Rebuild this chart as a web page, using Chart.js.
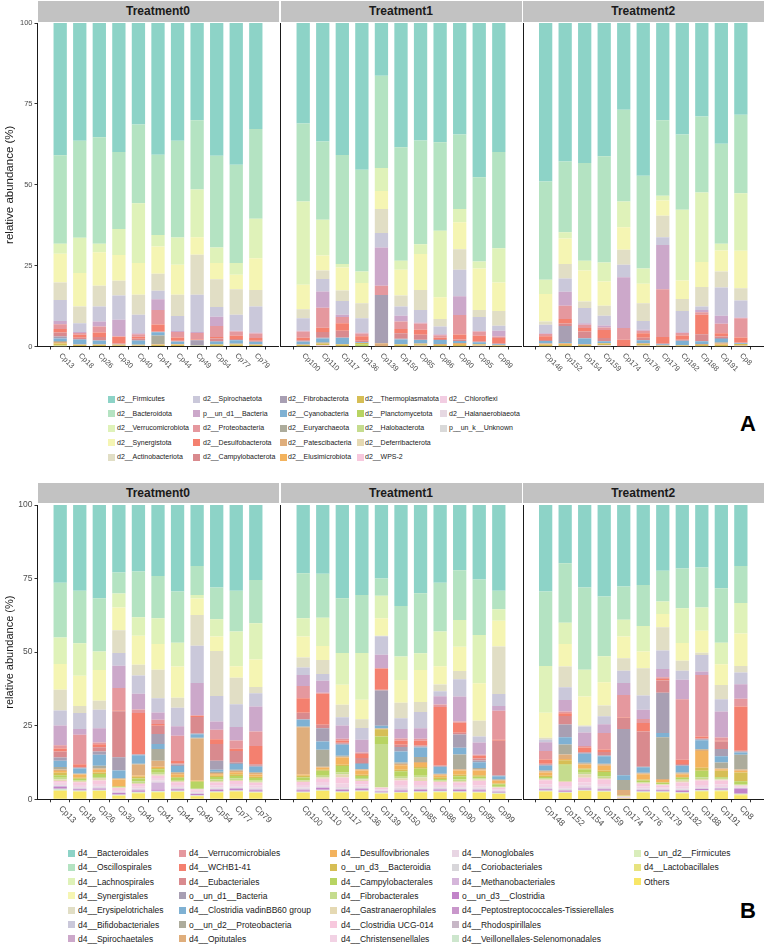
<!DOCTYPE html>
<html>
<head>
<meta charset="utf-8">
<script src="https://cdn.jsdelivr.net/npm/chart.js@4.4.1/dist/chart.umd.min.js"></script>
<style>
  body { margin: 0; background: #fff; font-family: "Liberation Sans", Arial, sans-serif; }
  #page { position: relative; width: 767px; height: 946px; overflow: hidden; background: #fff; }
  #page canvas { position: absolute; }
  .strip { position: absolute; background: #c2c2c2; color: #1a1a1a; font-weight: bold; font-size: 12px; text-align: center; }
  .sw { position: absolute; }
  .lt { position: absolute; color: #1a1a1a; white-space: nowrap; }
  .tag { position: absolute; font-weight: bold; font-size: 22px; color: #000; }
</style>
</head>
<body>
<div id="page"></div>
<script>
// samples per facet
var samplesT0 = ['Cp13', 'Cp18', 'Cp26', 'Cp30', 'Cp40', 'Cp41', 'Cp44', 'Cp49', 'Cp54', 'Cp77', 'Cp79'];
var samplesT1 = ['Cp100', 'Cp110', 'Cp117', 'Cp136', 'Cp139', 'Cp150', 'Cp85', 'Cp86', 'Cp90', 'Cp95', 'Cp99'];
var samplesT2 = ['Cp148', 'Cp152', 'Cp154', 'Cp159', 'Cp174', 'Cp176', 'Cp179', 'Cp182', 'Cp188', 'Cp191', 'Cp8'];
var facetNames = ['Treatment0', 'Treatment1', 'Treatment2'];
var yTicks = [0, 25, 50, 75, 100];

// panel A: phylum level (first name is on top of each bar)
var phylumNames = ['d2__Firmicutes', 'd2__Bacteroidota', 'd2__Verrucomicrobiota', 'd2__Synergistota', 'd2__Actinobacteriota',
  'd2__Spirochaetota', 'p__un_d1__Bacteria', 'd2__Proteobacteria', 'd2__Desulfobacterota', 'd2__Campylobacterota',
  'd2__Fibrobacterota', 'd2__Cyanobacteria', 'd2__Euryarchaeota', 'd2__Patescibacteria', 'd2__Elusimicrobiota',
  'd2__Thermoplasmatota', 'd2__Planctomycetota', 'd2__Halobacterota', 'd2__Deferribacterota', 'd2__WPS-2',
  'd2__Chloroflexi', 'd2__Halanaerobiaeota', 'p__un_k__Unknown'];
var phylumColors = ['#8DD3C7', '#B4E3C2', '#DFF2B9', '#F5F5B3', '#E1DEC5', '#CAC8DA', '#CCA8CA', '#E5989E', '#F4806F', '#D98A8E',
  '#A89FB3', '#7FB1D3', '#ADAC9C', '#DFAE7C', '#F3B35E', '#D6BE55', '#B8D462', '#C5DC8E', '#E5D9B3', '#F7C8DD',
  '#F2CDE2', '#E6D8E2', '#D9D9D9'];

// one row per sample, values in phylumNames order (%)
var phylumT0 = [
  [40.9, 27.3, 3.1, 8.9, 5.4, 6.5, 1.0, 1.5, 1.1, 1.2, 0.6, 0.8, 0.3, 0.3, 0.2, 0.6, 0.1, 0.1, 0.1, 0, 0, 0, 0],
  [36.4, 30.0, 10.9, 10.3, 5.2, 2.7, 0.3, 0.6, 0.9, 0.4, 0.2, 1.4, 0.1, 0.1, 0, 0.5, 0, 0, 0, 0, 0, 0, 0],
  [35.3, 32.9, 2.7, 10.3, 6.4, 4.7, 1.5, 1.9, 1.4, 1.0, 0.1, 1.1, 0.1, 0.1, 0, 0.5, 0, 0, 0, 0, 0, 0, 0],
  [39.9, 23.8, 8.0, 8.0, 4.5, 7.5, 5.1, 0.2, 2.1, 0.1, 0, 0.1, 0.1, 0.1, 0.1, 0.4, 0, 0, 0, 0, 0, 0, 0],
  [31.4, 24.3, 18.5, 9.8, 6.2, 5.7, 0.3, 0.8, 0.6, 0.4, 0.2, 1.2, 0.1, 0.1, 0.1, 0.3, 0, 0, 0, 0, 0, 0, 0],
  [40.7, 24.8, 3.6, 8.4, 5.3, 2.6, 3.3, 4.5, 2.2, 0.1, 0.1, 1.0, 2.7, 0.1, 0.1, 0.5, 0, 0, 0, 0, 0, 0, 0],
  [36.4, 29.9, 8.4, 9.3, 6.6, 4.6, 0.3, 1.7, 1.0, 0.2, 0.1, 0.7, 0.1, 0.1, 0.1, 0.5, 0, 0, 0, 0, 0, 0, 0],
  [30.1, 21.4, 14.7, 5.4, 12.4, 11.5, 0.3, 2.0, 0.2, 0.1, 1.5, 0.1, 0.1, 0, 0, 0.2, 0, 0, 0, 0, 0, 0, 0],
  [41.0, 28.4, 4.8, 5.0, 8.6, 3.0, 2.9, 3.4, 0.4, 0.8, 0.2, 0.8, 0.1, 0, 0, 0.5, 0, 0, 0, 0, 0, 0, 0.1],
  [43.8, 30.4, 3.6, 4.5, 7.9, 4.9, 0.3, 1.3, 1.0, 0.3, 0.1, 1.0, 0.1, 0.1, 0.1, 0.6, 0, 0, 0, 0, 0, 0, 0],
  [32.8, 27.7, 12.2, 9.8, 5.1, 8.1, 0.3, 1.4, 0.8, 0.3, 0, 0.8, 0.1, 0.1, 0, 0.5, 0, 0, 0, 0, 0, 0, 0]
];
var phylumT1 = [
  [31.1, 24.1, 25.7, 7.6, 2.8, 3.8, 0.3, 1.9, 0.8, 0.3, 0.1, 0.9, 0, 0.1, 0, 0.4, 0, 0, 0, 0, 0, 0, 0.1],
  [36.6, 24.2, 11.1, 4.6, 2.6, 3.9, 5.0, 6.2, 1.3, 1.8, 0.2, 1.2, 0.2, 0.2, 0, 0.5, 0, 0, 0, 0.2, 0.2, 0, 0],
  [40.8, 33.7, 1.1, 7.1, 3.2, 4.3, 0.7, 1.9, 2.3, 2.1, 0.2, 1.8, 0, 0.2, 0, 0.5, 0, 0, 0, 0, 0, 0, 0.1],
  [45.4, 31.4, 3.6, 6.2, 4.7, 4.4, 0.3, 0.8, 1.4, 0.5, 0, 0.2, 0, 0, 0, 0.4, 0.6, 0, 0, 0, 0, 0, 0.1],
  [16.3, 28.5, 7.1, 5.6, 7.4, 4.5, 11.8, 2.9, 0, 0, 14.9, 0, 0, 1.0, 0, 0, 0, 0, 0, 0, 0, 0, 0],
  [38.4, 35.1, 2.8, 7.9, 3.4, 2.9, 1.8, 2.3, 1.3, 1.7, 0.2, 1.4, 0, 0.2, 0, 0.5, 0, 0, 0, 0, 0, 0, 0.1],
  [36.3, 32.1, 3.0, 11.1, 6.2, 3.9, 0.3, 1.9, 1.6, 1.5, 0.1, 1.1, 0, 0.2, 0, 0.5, 0, 0, 0, 0.1, 0, 0, 0.1],
  [36.9, 27.3, 20.6, 6.7, 2.3, 2.4, 0.3, 0.8, 0.4, 0.3, 0, 1.2, 0, 0.3, 0, 0.4, 0, 0, 0, 0, 0, 0, 0.1],
  [34.5, 23.0, 4.1, 8.3, 6.4, 8.2, 5.8, 6.0, 1.5, 0.5, 0, 0.6, 0, 0.3, 0.3, 0.4, 0, 0, 0, 0, 0, 0, 0.1],
  [47.7, 26.0, 2.2, 12.8, 2.2, 4.3, 0.2, 1.3, 1.7, 0.3, 0, 0.5, 0, 0.2, 0, 0.4, 0, 0, 0, 0.1, 0, 0, 0.1],
  [39.9, 29.7, 10.6, 8.8, 4.6, 1.5, 1.8, 0.5, 1.6, 0.3, 0, 0.2, 0, 0.2, 0, 0.3, 0, 0, 0, 0, 0, 0, 0]
];
var phylumT2 = [
  [49.0, 30.4, 4.4, 8.5, 1.0, 2.6, 0.2, 0.7, 1.2, 0.3, 0, 0.8, 0, 0.2, 0.2, 0.4, 0, 0, 0, 0, 0, 0, 0.1],
  [42.8, 21.9, 1.9, 7.9, 4.5, 4.1, 4.3, 4.1, 1.4, 0.8, 4.9, 0.4, 0, 0.2, 0.3, 0.4, 0, 0, 0, 0, 0, 0, 0.1],
  [43.3, 30.2, 3.0, 9.6, 2.0, 4.7, 0.5, 1.0, 1.1, 2.0, 0.1, 1.8, 0, 0.2, 0, 0.4, 0, 0, 0, 0, 0, 0, 0.1],
  [41.2, 32.8, 5.9, 7.5, 3.1, 3.0, 0.6, 0.8, 2.5, 1.0, 0, 0.5, 0, 0.2, 0, 0.4, 0, 0.2, 0, 0.2, 0, 0, 0.1],
  [26.8, 28.4, 7.9, 7.0, 4.6, 3.9, 15.7, 3.6, 2.1, 0, 0, 0, 0, 0, 0, 0, 0, 0, 0, 0, 0, 0, 0],
  [47.2, 28.7, 4.7, 6.0, 5.5, 2.7, 0.3, 0.8, 1.4, 0.8, 0, 0.9, 0, 0.2, 0, 0.6, 0, 0, 0, 0.1, 0, 0, 0.1],
  [30.1, 23.3, 1.5, 4.7, 6.6, 2.4, 13.7, 14.8, 1.9, 0.3, 0, 0.3, 0, 0.2, 0, 0.2, 0, 0, 0, 0, 0, 0, 0],
  [34.5, 23.2, 21.9, 5.7, 3.7, 6.6, 0.2, 0.8, 1.3, 0.3, 0, 1.3, 0, 0.2, 0, 0.3, 0, 0, 0, 0, 0, 0, 0],
  [28.9, 23.5, 21.5, 7.7, 6.0, 1.1, 0.7, 0.8, 6.0, 2.2, 0, 0.8, 0, 0.3, 0, 0.4, 0, 0, 0, 0, 0, 0, 0.1],
  [37.3, 30.9, 2.1, 6.5, 5.0, 8.7, 2.5, 2.9, 1.0, 0.5, 0.3, 1.0, 0.3, 0.3, 0.2, 0.5, 0, 0, 0, 0, 0, 0, 0],
  [28.4, 24.2, 17.8, 11.6, 3.8, 5.2, 0.3, 5.9, 1.6, 0.2, 0, 0.2, 0, 0, 0, 0.6, 0, 0, 0, 0.1, 0, 0, 0.1]
];

// panel B: order level
var orderNames = ['d4__Bacteroidales', 'd4__Oscillospirales', 'd4__Lachnospirales', 'd4__Synergistales', 'd4__Erysipelotrichales',
  'd4__Bifidobacteriales', 'd4__Spirochaetales', 'd4__Verrucomicrobiales', 'd4__WCHB1-41', 'd4__Eubacteriales',
  'o__un_d1__Bacteria', 'd4__Clostridia vadinBB60 group', 'o__un_d2__Proteobacteria', 'd4__Opitutales',
  'd4__Desulfovibrionales', 'o__un_d3__Bacteroidia', 'd4__Campylobacterales', 'd4__Fibrobacterales',
  'd4__Gastranaerophilales', 'd4__Clostridia UCG-014', 'd4__Christensenellales',
  'd4__Monoglobales', 'd4__Coriobacteriales', 'd4__Methanobacteriales', 'o__un_d3__Clostridia',
  'd4__Peptostreptococcales-Tissierellales', 'd4__Rhodospirillales', 'd4__Veillonellales-Selenomonadales',
  'o__un_d2__Firmicutes', 'd4__Lactobacillales', 'Others'];
var orderColors = ['#8DD3C7', '#B4E3C2', '#DFF2B9', '#F5F5B3', '#E1DEC5', '#CAC8DA', '#CCA8CA', '#E5989E', '#F4806F', '#D98A8E',
  '#A89FB3', '#7FB1D3', '#ADAC9C', '#DFAE7C', '#F3B35E', '#D6BE55', '#B8D462', '#C5DC8E', '#E5D9B3', '#F7C8DD',
  '#F2D2E4', '#E8D5E3', '#D8D6DA', '#D5B6DA', '#C284C9', '#C997CB', '#C7B7C6', '#CDE6CD', '#D9EDBB', '#E7E37F', '#F8E667'];

var orderT0 = [
  [26.4, 18.6, 9.0, 8.8, 7.0, 5.1, 6.7, 1.1, 1.1, 2.0, 1.1, 2.1, 0.9, 0.5, 0.6, 0.8, 0.9, 0.6, 0.5, 0.6, 0.7, 0.2, 0.2, 0.3, 0.4, 0.2, 0.2, 0.2, 0.2, 0.2, 2.8],
  [29.1, 17.9, 11.0, 10.3, 2.4, 5.4, 2.0, 10.0, 0.9, 0.3, 0.2, 1.7, 0.2, 0.2, 1.1, 0.3, 0.5, 0.3, 0.4, 0.9, 0.7, 0.3, 0.2, 0.3, 0.3, 0.1, 0.1, 0.1, 0.1, 0.1, 2.6],
  [31.7, 18.1, 6.3, 10.4, 3.1, 6.3, 4.8, 0.6, 1.0, 1.5, 1.1, 3.7, 0.9, 0.5, 0.9, 0.5, 1.0, 0.4, 0.8, 1.2, 0.8, 0.3, 0.2, 0.3, 0.3, 0.1, 0.1, 0.1, 0.1, 0.1, 2.8],
  [23.0, 7.2, 4.7, 7.8, 7.7, 4.3, 7.6, 7.6, 0.3, 15.6, 4.5, 2.6, 0.2, 0.3, 2.2, 0.2, 0.2, 0.1, 0.2, 0.6, 0.5, 0.2, 0.2, 0.2, 0.4, 0.1, 0.1, 0.1, 0.1, 0.1, 1.2],
  [22.7, 15.5, 6.3, 9.9, 3.6, 6.2, 5.4, 1.2, 13.9, 0.2, 0.2, 2.9, 0.3, 3.7, 0.4, 0.6, 1.0, 0.6, 0.3, 0.9, 0.6, 0.2, 0.2, 0.3, 0.4, 0.1, 0.1, 0.1, 0.2, 0.1, 2.0],
  [24.1, 14.4, 8.7, 8.8, 9.7, 4.8, 2.5, 1.4, 0.6, 2.8, 3.4, 1.7, 4.0, 2.0, 0.5, 0.4, 1.2, 0.6, 0.4, 0.8, 0.8, 0.4, 0.3, 2.4, 0.4, 0.1, 0.1, 0.1, 0.1, 0.1, 2.4],
  [29.4, 17.4, 8.1, 10.6, 3.4, 6.3, 3.2, 8.6, 0.8, 0.4, 0.5, 2.0, 0.3, 0.5, 0.9, 0.3, 0.7, 0.4, 0.4, 0.9, 0.7, 0.3, 0.2, 0.3, 0.4, 0.1, 0.1, 0.1, 0.1, 0.1, 2.5],
  [21.0, 9.9, 1.2, 5.6, 10.4, 12.7, 10.9, 0.3, 0.3, 5.6, 0.3, 1.2, 0.2, 14.3, 0.2, 0.2, 2.2, 0.3, 0.2, 0.4, 0.5, 0.2, 0.2, 0.2, 0.3, 0.1, 0.1, 0.1, 0.1, 0.1, 1.0],
  [28.0, 10.8, 5.9, 4.9, 15.3, 8.7, 2.8, 3.2, 1.6, 5.7, 3.1, 0.6, 0.5, 0.4, 0.5, 0.4, 0.9, 0.5, 0.5, 0.9, 0.8, 0.3, 0.2, 0.3, 0.4, 0.1, 0.1, 0.1, 0.1, 0.1, 2.3],
  [29.1, 13.9, 11.8, 3.9, 9.0, 7.7, 4.6, 2.8, 0.8, 4.0, 0.4, 2.0, 0.3, 0.5, 0.7, 0.6, 0.8, 0.5, 0.4, 1.0, 0.9, 0.3, 0.2, 0.3, 0.4, 0.1, 0.1, 0.1, 0.1, 0.1, 2.6],
  [25.5, 14.7, 12.3, 9.3, 2.2, 4.5, 8.5, 4.9, 6.2, 0.5, 0.3, 1.9, 0.3, 0.5, 0.7, 0.5, 0.8, 0.4, 0.4, 0.9, 0.8, 0.3, 0.2, 0.3, 0.4, 0.1, 0.1, 0.1, 0.1, 0.1, 2.2]
];
var orderT1 = [
  [23.2, 15.3, 6.2, 7.1, 3.4, 2.6, 3.7, 4.2, 4.9, 2.2, 0.2, 2.3, 0.2, 16.1, 0.4, 0.6, 0.8, 0.3, 0.4, 1.0, 0.9, 0.4, 0.2, 0.3, 0.4, 0.1, 0.1, 0.1, 0.1, 0.1, 2.2],
  [23.4, 14.9, 9.6, 4.8, 4.7, 2.3, 4.1, 0.3, 10.6, 1.2, 4.5, 2.8, 5.7, 0.3, 0.8, 0.3, 1.7, 0.5, 0.5, 1.1, 1.2, 0.4, 0.2, 0.3, 0.5, 0.1, 0.1, 0.1, 0.1, 0.1, 2.8],
  [31.7, 18.6, 10.8, 6.8, 4.2, 2.8, 4.5, 0.6, 0.8, 0.3, 0.4, 3.7, 0.3, 0.3, 2.5, 0.4, 2.2, 0.6, 1.1, 2.0, 1.2, 0.5, 0.2, 0.3, 0.4, 0.1, 0.1, 0.1, 0.1, 0.1, 2.3],
  [30.6, 19.7, 15.9, 6.6, 3.0, 4.0, 4.3, 0.5, 1.4, 1.7, 0.3, 1.7, 0.2, 0.3, 1.5, 0.4, 0.7, 0.5, 0.5, 1.1, 0.8, 0.3, 0.2, 0.3, 0.4, 0.1, 0.1, 0.1, 0.1, 0.1, 2.6],
  [25.0, 5.8, 7.7, 5.9, 0.2, 6.3, 4.5, 0.2, 7.2, 0.2, 12.0, 0.9, 0.1, 0.1, 0.1, 2.5, 2.5, 14.7, 0.2, 0.5, 0.3, 0.2, 0.1, 0.2, 0.2, 0.1, 0.1, 0.1, 0.1, 0.1, 1.9],
  [34.3, 17.2, 8.0, 7.7, 5.3, 3.6, 3.2, 0.8, 1.4, 0.7, 1.6, 3.7, 0.4, 0.5, 1.6, 0.5, 1.8, 0.6, 0.7, 1.5, 1.0, 0.4, 0.2, 0.3, 0.4, 0.1, 0.1, 0.1, 0.1, 0.1, 2.1],
  [30.0, 20.4, 5.7, 10.8, 3.4, 5.6, 3.5, 0.7, 1.6, 0.4, 0.3, 3.2, 1.7, 0.4, 1.3, 0.6, 2.4, 0.6, 1.2, 1.3, 0.8, 0.4, 0.2, 0.3, 0.4, 0.1, 0.1, 0.1, 0.1, 0.1, 2.3],
  [26.4, 16.6, 11.8, 6.2, 2.3, 1.7, 2.8, 0.8, 19.9, 0.3, 0.2, 2.3, 0.2, 0.3, 0.7, 0.6, 0.4, 0.3, 0.3, 1.0, 0.8, 0.3, 0.2, 0.3, 0.4, 0.1, 0.1, 0.1, 0.1, 0.1, 2.4],
  [22.2, 16.9, 9.1, 8.2, 2.8, 5.9, 8.5, 0.4, 3.4, 0.6, 4.5, 2.3, 5.0, 0.4, 1.5, 0.5, 1.1, 0.5, 0.5, 0.8, 0.9, 0.3, 0.2, 0.3, 0.4, 0.1, 0.1, 0.1, 0.1, 0.1, 2.3],
  [25.3, 18.9, 16.4, 12.7, 5.4, 2.0, 4.2, 0.3, 0.9, 0.7, 0.6, 2.0, 0.5, 0.3, 1.6, 0.5, 0.6, 0.4, 0.4, 1.6, 0.8, 0.3, 0.2, 0.3, 0.4, 0.1, 0.1, 0.1, 0.1, 0.1, 2.2],
  [29.3, 6.3, 3.9, 8.8, 16.1, 4.1, 1.6, 9.9, 0.3, 11.8, 0.3, 1.0, 0.2, 0.3, 0.9, 0.3, 0.8, 0.2, 0.2, 0.5, 0.4, 0.2, 0.1, 0.2, 0.2, 0.1, 0.1, 0.1, 0.1, 0.1, 1.8]
];
var orderT2 = [
  [29.4, 25.3, 15.9, 8.5, 0.6, 0.9, 3.0, 2.9, 1.4, 0.4, 0.3, 1.6, 0.3, 0.4, 1.1, 0.4, 0.5, 0.3, 0.3, 1.4, 0.9, 0.3, 0.2, 0.3, 0.3, 0.1, 0.1, 0.1, 0.1, 0.1, 2.6],
  [19.8, 20.2, 7.2, 7.7, 7.0, 4.4, 3.9, 0.6, 0.9, 2.9, 4.3, 2.5, 3.4, 1.5, 0.4, 1.5, 0.4, 5.2, 0.3, 1.4, 0.8, 0.3, 0.2, 0.3, 0.3, 0.1, 0.1, 0.1, 0.1, 0.1, 2.1],
  [28.0, 28.0, 9.1, 9.8, 0.4, 2.0, 4.6, 0.5, 1.5, 0.3, 0.3, 3.1, 0.3, 0.3, 1.3, 0.4, 1.1, 0.5, 1.2, 1.6, 1.0, 0.5, 0.2, 0.3, 0.4, 0.1, 0.1, 0.1, 0.1, 0.1, 2.8],
  [31.1, 20.3, 8.8, 7.9, 3.7, 2.7, 3.0, 5.6, 0.8, 1.2, 0.3, 2.5, 0.3, 0.4, 1.6, 0.5, 1.5, 0.6, 0.5, 1.5, 0.9, 0.4, 0.2, 0.3, 0.4, 0.1, 0.1, 0.1, 0.1, 0.1, 2.5],
  [28.0, 11.3, 5.7, 7.4, 4.2, 4.2, 4.1, 7.6, 0.2, 3.7, 15.7, 1.6, 3.4, 1.8, 0.1, 0.1, 0.1, 0.1, 0.1, 0.1, 0.1, 0.1, 0.1, 0.1, 0.1, 0, 0, 0, 0, 0, 0.3],
  [27.2, 13.9, 8.7, 5.7, 9.2, 4.9, 3.1, 1.4, 2.9, 11.9, 0.2, 1.9, 0.2, 0.3, 1.8, 0.3, 0.5, 0.3, 0.3, 0.9, 0.7, 0.3, 0.1, 0.2, 0.3, 0.1, 0.1, 0.1, 0.1, 0.1, 2.3],
  [22.3, 10.5, 4.2, 4.5, 7.9, 6.3, 2.8, 0.6, 0.5, 4.2, 13.7, 1.4, 14.2, 0.3, 0.8, 0.2, 0.4, 0.2, 0.2, 0.7, 0.5, 0.2, 0.1, 0.2, 0.3, 0.1, 0.1, 0.1, 0.1, 0.1, 2.3],
  [21.9, 13.5, 11.8, 6.0, 3.4, 3.1, 6.6, 20.6, 1.4, 0.4, 0.3, 2.2, 0.3, 0.3, 0.9, 0.3, 0.6, 0.4, 0.6, 1.3, 0.8, 0.3, 0.1, 0.2, 0.5, 0.1, 0.1, 0.1, 0.1, 0.1, 2.0],
  [21.2, 13.6, 7.9, 7.5, 0.8, 5.6, 1.2, 20.9, 0.6, 0.3, 0.3, 3.0, 0.3, 0.4, 5.7, 1.0, 2.2, 0.6, 0.5, 1.5, 0.8, 0.3, 0.1, 0.2, 0.3, 0.1, 0.1, 0.1, 0.1, 0.2, 2.6],
  [28.3, 18.5, 7.3, 7.1, 4.8, 4.2, 8.8, 1.1, 0.3, 2.5, 2.5, 2.1, 2.0, 0.3, 0.5, 2.2, 0.5, 0.3, 0.3, 1.3, 0.9, 0.3, 0.1, 0.2, 0.3, 0.1, 0.1, 0.1, 0.1, 0.2, 2.7],
  [21.0, 12.6, 10.4, 11.0, 2.2, 4.0, 4.9, 2.7, 15.0, 0.3, 0.3, 0.8, 5.0, 0.4, 0.6, 3.0, 1.0, 0.3, 0.2, 0.3, 0.3, 0.1, 0.1, 0.2, 1.6, 0.1, 0.1, 0.1, 0.1, 0.2, 1.4]
];

var FONT = '"Liberation Sans", Arial, sans-serif';
var page = document.getElementById('page');

// facet plot areas (x extent) shared by both panels
var facetX = [[37.5, 278.5], [280.5, 521.5], [523, 763.5]];

var panels = [
  {
    names: phylumNames, colors: phylumColors, rows: [phylumT0, phylumT1, phylumT2],
    stripTop: 1, stripH: 21, plotTop: 23, plotBottom: 346.5,
    tickSize: 7.5, titleSize: 11.5, labelOffset: 8,
    legend: { perCol: 5, swX: [108, 193, 280, 357, 440], txX: [117, 203, 288, 365, 449], y0: 399, dy: 14.5, size: 7, box: 7 },
    tag: { text: 'A', x: 740, y: 411 }
  },
  {
    names: orderNames, colors: orderColors, rows: [orderT0, orderT1, orderT2],
    stripTop: 483, stripH: 20, plotTop: 505, plotBottom: 799.3,
    tickSize: 8.5, titleSize: 11, labelOffset: 8,
    legend: { perCol: 7, swX: [68, 179, 330, 452, 634], txX: [78, 189, 341, 462, 644], y0: 853, dy: 14.3, size: 8.5, box: 7 },
    tag: { text: 'B', x: 740, y: 898 }
  }
];
var sampleSets = [samplesT0, samplesT1, samplesT2];

// sample names under the bars, rotated down to the right
var rotatedLabels = {
  id: 'rotatedLabels',
  afterDraw: function (chart, args, opts) {
    var xs = chart.scales.x;
    var ctx = chart.ctx;
    ctx.save();
    ctx.font = opts.size + 'px ' + FONT;
    ctx.fillStyle = '#4d4d4d';
    ctx.textAlign = 'left';
    ctx.textBaseline = 'middle';
    opts.names.forEach(function (name, i) {
      ctx.save();
      ctx.translate(xs.getPixelForValue(i), xs.top + opts.offset);
      ctx.rotate(Math.PI / 4);
      ctx.fillText(name, 0, 0);
      ctx.restore();
    });
    ctx.restore();
  }
};

function buildFacet(p, f) {
  var fx = facetX[f];
  var first = f === 0;
  var names = sampleSets[f];
  var rows = p.rows[f];

  var cLeft = first ? 0 : Math.floor(fx[0] - 4);
  var cTop = Math.floor(p.plotTop - 8);
  var areaLeft = fx[0] - cLeft;
  var areaTop = p.plotTop - cTop;
  var areaH = p.plotBottom - p.plotTop;
  var cW = Math.ceil(fx[1] - cLeft + 30);
  var cH = Math.ceil(areaTop + areaH + 42);
  var xH = cH - areaTop - areaH;

  var canvas = document.createElement('canvas');
  canvas.width = cW;
  canvas.height = cH;
  canvas.style.left = cLeft + 'px';
  canvas.style.top = cTop + 'px';
  canvas.style.width = cW + 'px';
  canvas.style.height = cH + 'px';
  page.appendChild(canvas);

  // ggplot puts the first level on top, Chart.js stacks the first dataset at the bottom
  var datasets = [];
  for (var k = p.names.length - 1; k >= 0; k--) {
    datasets.push({
      label: p.names[k],
      backgroundColor: p.colors[k],
      borderWidth: 0,
      barPercentage: 0.68,
      categoryPercentage: 1,
      data: rows.map(function (row, i) { return { x: i, y: row[k] }; })
    });
  }

  new Chart(canvas, {
    type: 'bar',
    data: { datasets: datasets },
    plugins: [rotatedLabels],
    options: {
      responsive: false,
      animation: false,
      devicePixelRatio: 1,
      layout: { padding: { left: first ? 0 : areaLeft, top: areaTop, right: cW - (fx[1] - cLeft), bottom: 0 } },
      plugins: {
        legend: { display: false },
        tooltip: { enabled: false },
        rotatedLabels: { names: names, size: p.tickSize, offset: p.labelOffset }
      },
      scales: {
        x: {
          type: 'linear',
          stacked: true,
          min: -0.6,
          max: names.length - 0.4,
          afterBuildTicks: function (scale) {
            scale.ticks = names.map(function (n, i) { return { value: i }; });
          },
          afterFit: function (scale) { scale.height = xH; },
          ticks: { display: false },
          grid: { display: true, drawOnChartArea: false, drawTicks: true, tickLength: 3, color: '#333', lineWidth: 1 },
          border: { display: true, color: '#1a1a1a', width: 1 }
        },
        y: {
          stacked: true,
          min: 0,
          max: 100,
          afterBuildTicks: function (scale) {
            scale.ticks = yTicks.map(function (v) { return { value: v }; });
          },
          afterFit: function (scale) { scale.width = first ? areaLeft : 0; },
          ticks: {
            display: first,
            padding: 2,
            color: '#4d4d4d',
            font: { family: FONT, size: p.tickSize }
          },
          grid: { display: first, drawOnChartArea: false, drawTicks: true, tickLength: 3, color: '#333', lineWidth: 1 },
          border: { display: true, color: '#1a1a1a', width: 1 },
          title: {
            display: first,
            text: 'relative abundance (%)',
            color: '#1a1a1a',
            padding: { top: 3, bottom: 0 },
            font: { family: FONT, size: p.titleSize }
          }
        }
      }
    }
  });

  var strip = document.createElement('div');
  strip.className = 'strip';
  strip.style.left = fx[0] + 'px';
  strip.style.width = (fx[1] - fx[0]) + 'px';
  strip.style.top = p.stripTop + 'px';
  strip.style.height = p.stripH + 'px';
  strip.style.lineHeight = p.stripH + 'px';
  strip.textContent = facetNames[f];
  page.appendChild(strip);
}

function buildLegend(p) {
  var lg = p.legend;
  p.names.forEach(function (name, k) {
    var c = Math.floor(k / lg.perCol);
    var r = k % lg.perCol;
    var y = lg.y0 + r * lg.dy;
    var sw = document.createElement('div');
    sw.className = 'sw';
    sw.style.left = lg.swX[c] + 'px';
    sw.style.top = (y - lg.box / 2) + 'px';
    sw.style.width = lg.box + 'px';
    sw.style.height = lg.box + 'px';
    sw.style.background = p.colors[k];
    page.appendChild(sw);

    var tx = document.createElement('div');
    tx.className = 'lt';
    tx.style.left = lg.txX[c] + 'px';
    tx.style.top = (y - 7) + 'px';
    tx.style.lineHeight = '14px';
    tx.style.fontSize = lg.size + 'px';
    tx.textContent = name;
    page.appendChild(tx);
  });

  var tag = document.createElement('div');
  tag.className = 'tag';
  tag.style.left = p.tag.x + 'px';
  tag.style.top = p.tag.y + 'px';
  tag.textContent = p.tag.text;
  page.appendChild(tag);
}

panels.forEach(function (p) {
  for (var f = 0; f < 3; f++) buildFacet(p, f);
  buildLegend(p);
});
</script>
</body>
</html>
